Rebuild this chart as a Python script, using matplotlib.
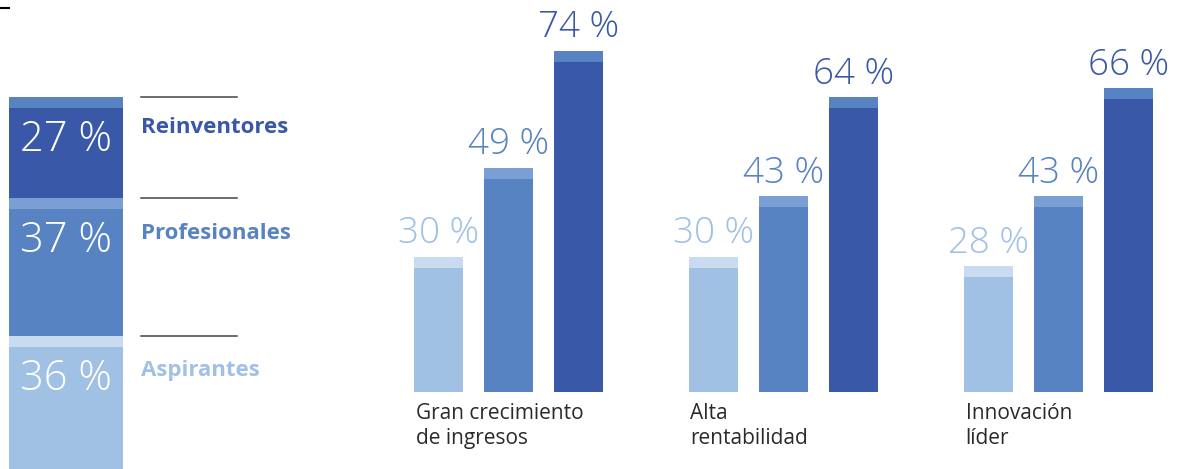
import matplotlib
matplotlib.use("Agg")
import matplotlib.pyplot as plt
import matplotlib.transforms as mtransforms

# ---------------- data ----------------
segments = ["Aspirantes", "Profesionales", "Reinventores"]
segment_values = [36, 37, 27]

categories = ["Gran crecimiento\nde ingresos", "Alta\nrentabilidad", "Innovación\nlíder"]
aspirantes = [30, 30, 28]
profesionales = [49, 43, 43]
reinventores = [74, 64, 66]

# ---------------- style ----------------
W, H = 1179, 469
DPI = 100
c_dark, c_mid, c_light = "#3A58A8", "#5783C2", "#A0C0E4"
cap_dark, cap_mid, cap_light = "#5783C2", "#7A9FD3", "#C9DBF1"
fills = [c_light, c_mid, c_dark]
caps = [cap_light, cap_mid, cap_dark]
FONT = "Open Sans"

plt.rcParams["font.family"] = [FONT, "DejaVu Sans"]

fig = plt.figure(figsize=(W / DPI, H / DPI), dpi=DPI)
fig.patch.set_facecolor("white")


def fx(px):
    return px / W


def fy(py):
    return 1 - py / H


# ---------------- right grouped bars ----------------
ax_l, ax_r = 380, 1179
base_px = 392
axr = fig.add_axes([fx(ax_l), fy(base_px), fx(ax_r - ax_l), base_px / H])
group_px0, group_step = 508.5, 275.0
axr.set_xlim((ax_l - group_px0) / group_step, (ax_r - group_px0) / group_step)
px_per_unit = 4.68
axr.set_ylim(5 / px_per_unit, 397 / px_per_unit)
axr.axis("off")

bar_step = 70 / group_step
bar_w = 49 / group_step
cap_h = 11 / px_per_unit
series = [aspirantes, profesionales, reinventores]
for s, vals in enumerate(series):
    for g, v in enumerate(vals):
        x = g + (s - 1) * bar_step
        axr.bar(x, v, width=bar_w, color=fills[s], linewidth=0)
        axr.bar(x, cap_h, bottom=v - cap_h, width=bar_w, color=caps[s], linewidth=0)
        axr.annotate(f"{v} %", (x, v), xytext=(0, 9.5), textcoords="offset points",
                     ha="center", va="baseline", fontsize=26.5, color=fills[s],
                     fontweight="light")

trans_cat = mtransforms.blended_transform_factory(axr.transData, fig.transFigure)
for g, cat in enumerate(categories):
    x_left = g - bar_step - bar_w / 2 + 1.5 / group_step
    axr.text(x_left, fy(402.5), cat, transform=trans_cat, ha="left", va="top",
             fontsize=15, color="#2a2a2a", linespacing=1.3, clip_on=False)

# ---------------- left stacked bar ----------------
left_px, right_px = 9, 123
top_px, scale_left = 97, 3.73
axs = fig.add_axes([fx(left_px), fy(top_px + 100 * scale_left), fx(right_px - left_px),
                    100 * scale_left / H])
axs.set_xlim(-0.5, 0.5)
axs.set_ylim(0, 100)
axs.axis("off")
cap_l = 11 / scale_left
bottom = 0
tops = []
for i, v in enumerate(segment_values):
    axs.bar(0, v, bottom=bottom, width=1, color=fills[i], linewidth=0)
    axs.bar(0, cap_l, bottom=bottom + v - cap_l, width=1, color=caps[i], linewidth=0)
    top = bottom + v
    tops.append(top)
    axs.annotate(f"{v} %", (0, top), xytext=(0, -39), textcoords="offset points",
                 ha="center", va="baseline", fontsize=30, color="white",
                 fontweight="light")
    bottom = top

blend = mtransforms.blended_transform_factory(fig.transFigure, axs.transData)
label_offsets_px = [40, 41, 36]
for i, (name, top, off) in enumerate(zip(segments, tops, label_offsets_px)):
    fig.add_artist(plt.Line2D([fx(141), fx(237)], [top, top], transform=blend,
                              color="#444444", linewidth=1.1))
    t_tr = blend + mtransforms.ScaledTranslation(0, -off / DPI, fig.dpi_scale_trans)
    fig.text(fx(141), top, name, transform=t_tr, fontsize=16, fontweight="bold",
             color=fills[i], ha="left", va="baseline")

# small dash at top-left
fig.add_artist(plt.Line2D([0, fx(9)], [fy(8.5), fy(8.5)], color="black", linewidth=1.5))

fig.savefig("out.png", dpi=DPI, facecolor="white")
